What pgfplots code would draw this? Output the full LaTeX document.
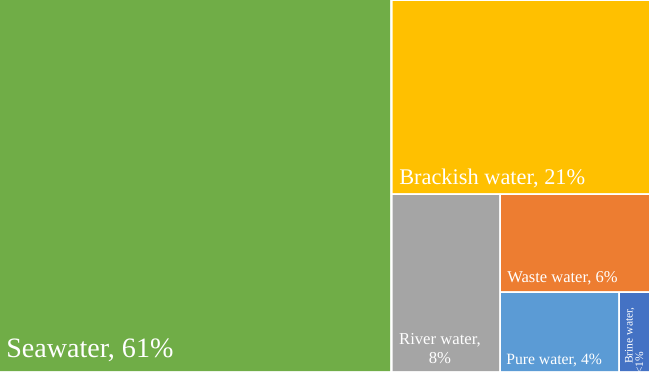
\documentclass[border=0pt]{standalone}
\usepackage{pgfplots}
\pgfplotsset{compat=1.18}
\usepackage{fontspec}
\setmainfont{Liberation Serif}
\definecolor{cSea}{HTML}{70AD47}
\definecolor{cBrack}{HTML}{FFC000}
\definecolor{cRiver}{HTML}{A5A5A5}
\definecolor{cWaste}{HTML}{ED7D31}
\definecolor{cPure}{HTML}{5B9BD5}
\definecolor{cBrine}{HTML}{4472C4}
\begin{document}
\begin{tikzpicture}
\begin{axis}[
  width=467.28pt, height=267.84pt, scale only axis,
  xmin=0, xmax=649, ymin=0, ymax=372, y dir=reverse,
  hide axis, clip=true,
]
% Seawater 61%
\addplot[fill=cSea, draw=none] coordinates {(0,0) (390,0) (390,371) (0,371) (0,0)};
% Brackish water 21%
\addplot[fill=cBrack, draw=none] coordinates {(392.5,1) (649,1) (649,193) (392.5,193) (392.5,1)};
% River water 8%
\addplot[fill=cRiver, draw=none] coordinates {(392.5,195) (499,195) (499,371) (392.5,371) (392.5,195)};
% Waste water 6%
\addplot[fill=cWaste, draw=none] coordinates {(501,195) (649,195) (649,291) (501,291) (501,195)};
% Pure water 4%
\addplot[fill=cPure, draw=none] coordinates {(501,293) (618,293) (618,371) (501,371) (501,293)};
% Brine water <1%
\addplot[fill=cBrine, draw=none] coordinates {(620,293) (649,293) (649,371) (620,371) (620,293)};

\node[anchor=base west, text=white, font=\fontsize{20.2}{24}\selectfont, inner sep=0pt] at (axis cs:6,357) {Seawater, 61\%};
\node[anchor=base west, text=white, font=\fontsize{16.1}{19}\selectfont, inner sep=0pt] at (axis cs:399,184) {Brackish water, 21\%};
\node[anchor=base west, text=white, font=\fontsize{11.9}{14}\selectfont, inner sep=0pt] at (axis cs:507,282) {Waste water, 6\%};
\node[anchor=base, text=white, font=\fontsize{12}{14}\selectfont, inner sep=0pt] at (axis cs:440,344) {River water,};
\node[anchor=base, text=white, font=\fontsize{12}{14}\selectfont, inner sep=0pt] at (axis cs:440,363) {8\%};
\node[anchor=base west, text=white, font=\fontsize{11.3}{14}\selectfont, inner sep=0pt] at (axis cs:506,364) {Pure water, 4\%};
\node[anchor=base, rotate=90, text=white, font=\fontsize{8.3}{10}\selectfont, inner sep=0pt] at (axis cs:632.5,335.5) {Brine water,};
\node[anchor=base, rotate=90, text=white, font=\fontsize{8.3}{10}\selectfont, inner sep=0pt] at (axis cs:643,363) {<1\%};
\end{axis}
\pgfresetboundingbox
\path (current axis.south west) rectangle (current axis.north east);
\end{tikzpicture}
\end{document}
